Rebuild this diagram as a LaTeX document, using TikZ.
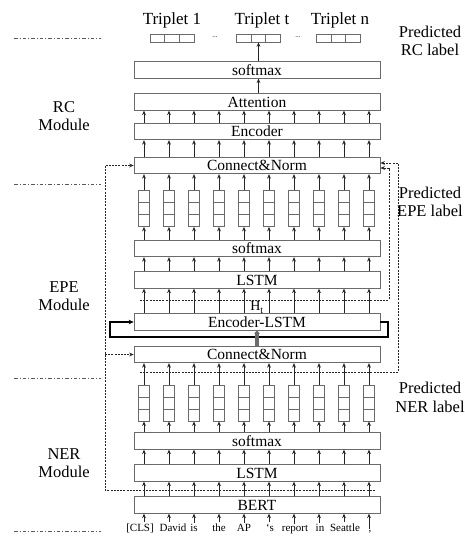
\documentclass[tikz,border=0pt]{standalone}
\usepackage{fontspec}
\setmainfont{Liberation Serif}
\usetikzlibrary{arrows.meta,calc}
\definecolor{boxgray}{HTML}{6A6A6A}
\definecolor{inkc}{HTML}{262626}
\begin{document}
\begin{tikzpicture}[x=1pt,y=-1pt,
  layer/.style={draw=boxgray, line width=0.7pt, minimum width=246pt, minimum height=16.5pt,
    inner sep=0pt, font=\fontsize{15.5}{16}\selectfont, text=black},
  arr/.style={draw=inkc, line width=0.75pt, -{Stealth[length=4.5pt,width=3.8pt]}},
  dashln/.style={draw=inkc, line width=0.75pt, dash pattern=on 2pt off 1.2pt},
  dasharr/.style={dashln, -{Stealth[length=4.5pt,width=3.8pt]}},
  sepline/.style={draw=gray!70!black, line width=0.7pt, dash pattern=on 3.5pt off 2pt on 1pt off 2pt},
  looparr/.style={draw=black, line width=1.4pt, -{Stealth[length=5pt,width=4.5pt]}},
  fatarr/.style={draw=gray!85!black, line width=3.4pt, -{Triangle[length=3pt,width=5.5pt]}},
  stackv/.style={draw=boxgray, line width=0.7pt, minimum width=11pt, minimum height=36pt, inner sep=0pt,
    path picture={\foreach \f in {0.3333,0.6667}{\draw[boxgray,line width=0.7pt]
      ($(path picture bounding box.north west)!\f!(path picture bounding box.south west)$) --
      ($(path picture bounding box.north east)!\f!(path picture bounding box.south east)$);}}},
  stackh/.style={draw=boxgray, line width=0.7pt, minimum width=44pt, minimum height=8pt, inner sep=0pt,
    path picture={\foreach \f in {0.3333,0.6667}{\draw[boxgray,line width=0.7pt]
      ($(path picture bounding box.north west)!\f!(path picture bounding box.north east)$) --
      ($(path picture bounding box.south west)!\f!(path picture bounding box.south east)$);}}},
  lbl/.style={align=center, font=\fontsize{16.5}{18.5}\selectfont, inner sep=0pt},
  trip/.style={font=\fontsize{17}{17}\selectfont, inner sep=0pt},
  tok/.style={font=\fontsize{11}{12}\selectfont, inner sep=1pt, anchor=base}
]
\useasboundingbox (0,0) rectangle (464,539);

% column positions
\foreach \i in {0,...,9} \coordinate (c\i) at ({144+25*\i},0);

% ---------- RC module ----------
\node[trip] (lt1) at (172,20) {Triplet 1};
\node[trip] (ltt) at (262,20) {Triplet t};
\node[trip] (ltn) at (340,20) {Triplet n};
\node[stackh] (b1) at (172,38) {};
\node[stackh] (bt) at (258.5,38) {};
\node[stackh] (bn) at (338.5,38) {};
\node[font=\fontsize{7}{7}\selectfont, inner sep=0pt] (d1) at (215,37) {...};
\node[font=\fontsize{7}{7}\selectfont, inner sep=0pt] (d2) at (298,37) {...};

\node[layer] (smR) at (257,70) {softmax};
\node[layer] (att) at (257,102) {Attention};
\node[layer] (enc) at (257,131.5) {Encoder};
\node[layer] (cn2) at (257,165.5) {Connect\&Norm};

% ---------- EPE module ----------
\foreach \i in {0,...,9} \node[stackv] (e\i) at ({144+25*\i},208.5) {};
\node[layer] (smE) at (257,248.5) {softmax};
\node[layer] (lstmE) at (257,280) {LSTM};
\node[inner sep=0pt, font=\fontsize{14}{14}\selectfont] (ht) at (257,307.5) {H\textsubscript{t}};
\node[layer] (enclstm) at (257,322) {Encoder-LSTM};
\node[layer] (cn1) at (257,354.5) {Connect\&Norm};

% ---------- NER module ----------
\foreach \i in {0,...,9} \node[stackv] (n\i) at ({144+25*\i},403) {};
\node[layer] (smN) at (257,441) {softmax};
\node[layer] (lstmN) at (257,473) {LSTM};
\node[layer] (bert) at (257,505) {BERT};

% input tokens
\foreach \i/\w/\dx in {0/{[CLS]}/-4,1/David/4,2/is/0,3/the/0,4/AP/0,5/`s/1,6/report/1,7/in/1,8/Seattle/1,9/{,}/1}
  \node[tok] (t\i) at ({144+25*\i+\dx},531) {\w};

% ---------- vertical data flow ----------
\draw[arr] (smR.north -| bt) -- (bt.south);
\draw[arr] (att.north -| bt) -- (smR.south -| bt);
\foreach \i in {0,...,9} {
  \draw[arr] (enc.north -| c\i) -- (att.south -| c\i);
  \draw[arr] (cn2.north -| c\i) -- (enc.south -| c\i);
  \draw[arr] (e\i.north) -- (cn2.south -| e\i);
  \draw[arr] (smE.north -| e\i) -- (e\i.south);
  \draw[arr] (lstmE.north -| c\i) -- (smE.south -| c\i);
  \draw[arr] (enclstm.north -| c\i) -- (lstmE.south -| c\i);
  \draw[arr] (n\i.north) -- (cn1.south -| n\i);
  \draw[arr] (smN.north -| n\i) -- (n\i.south);
  \draw[arr] (lstmN.north -| c\i) -- (smN.south -| c\i);
  \draw[arr] (bert.north -| c\i) -- (lstmN.south -| c\i);
  \draw[arr] (t\i.north -| c\i) -- (bert.south -| c\i);
}

% Encoder-LSTM recurrence loop and its input
\coordinate (loopL) at (110,337);
\coordinate (loopR) at (388,337);
\draw[looparr] (enclstm.east) -- (enclstm.east -| loopR) -- (loopR) -- (loopL)
  -- (loopL |- enclstm.west) -- (enclstm.west);
\draw[fatarr] (cn1.north) -- (enclstm.south);

% ---------- skip connections (dashed) ----------
\coordinate (bertout) at (375,490);
\coordinate (lbus) at (105,0);
\coordinate (rbusA) at (398,0);
\coordinate (rbusB) at (389,0);
\coordinate (nerout) at (140,372);
\coordinate (epeout) at (140,300);
\coordinate (inA) at ($(cn2.east)+(0,-2.5)$);
\coordinate (inB) at ($(cn2.east)+(0,2.5)$);
\draw[dasharr] (bertout) -- (bertout -| lbus) -- (lbus |- cn2.west) -- (cn2.west);
\draw[dasharr] (lbus |- cn1.west) -- (cn1.west);
\draw[dasharr] (nerout) -- (nerout -| rbusA) -- (rbusA |- inA) -- (inA);
\draw[dasharr] (epeout) -- (epeout -| rbusB) -- (rbusB |- inB) -- (inB);

% ---------- module separators and captions ----------
\foreach \y in {38,184,378,531} \draw[sepline] (14,\y) -- (101,\y);
\node[lbl] (mRC) at (64,116) {RC\\Module};
\node[lbl] (mEPE) at (64,296) {EPE\\Module};
\node[lbl] (mNER) at (64,463) {NER\\Module};
\node[lbl] (pRC) at (430,41) {Predicted\\RC label};
\node[lbl] (pEPE) at (430,202) {Predicted\\EPE label};
\node[lbl] (pNER) at (430,397.5) {Predicted\\NER label};
\end{tikzpicture}
\end{document}
